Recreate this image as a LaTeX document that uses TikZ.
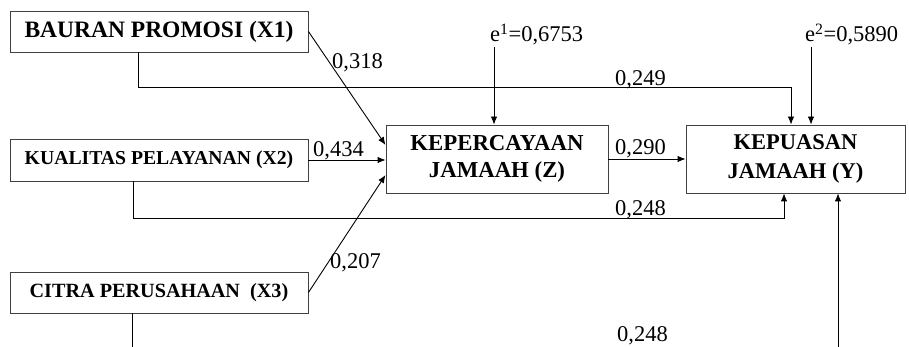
\documentclass[tikz,border=0pt]{standalone}
\usepackage{fontspec}
\setmainfont{Liberation Serif}
\usetikzlibrary{arrows.meta,calc}
\begin{document}
\begin{tikzpicture}[x=1pt,y=-1pt,
  box/.style={draw=black!75,line width=0.9pt,inner sep=0pt,align=center,font=\bfseries},
  conn/.style={line width=0.9pt,-{Latex[length=8pt,width=6.5pt]}},
  plain/.style={line width=0.9pt},
  num/.style={inner sep=0pt,anchor=base west,font=\fontsize{22.5}{26}\selectfont}]
\useasboundingbox (0,0) rectangle (909,347);
\clip (0,0) rectangle (909,347);
\node[box,minimum width=298pt,minimum height=41pt,font=\bfseries\fontsize{23.5}{26}\selectfont] (X1) at (159,31.5) {BAURAN PROMOSI (X1)};
\node[box,minimum width=298pt,minimum height=42pt,font=\bfseries\fontsize{19.7}{23}\selectfont] (X2) at (159,160) {KUALITAS PELAYANAN (X2)};
\node[box,minimum width=298pt,minimum height=41pt,font=\bfseries\fontsize{20.2}{23}\selectfont] (X3) at (159,292.5) {CITRA PERUSAHAAN\ \ (X3)};
\node[box,minimum width=222pt,minimum height=68pt,font=\bfseries\fontsize{22.8}{27}\selectfont] (Z) at (497,159) {KEPERCAYAAN\\JAMAAH (Z)};
\node[box,minimum width=219pt,minimum height=68pt,font=\bfseries\fontsize{22.5}{29}\selectfont] (Y) at (795.5,159) {KEPUASAN\\JAMAAH (Y)};
% error terms
\node[num] (e1) at (490,42) {e\textsuperscript{1}=0,6753};
\node[num] (e2) at (805,42) {e\textsuperscript{2}=0,5890};
\coordinate (e1s) at (494,47);
\coordinate (e2s) at (811,47);
\draw[conn] (e1s) -- (e1s |- Z.north);
\draw[conn] (e2s) -- (e2s |- Y.north);
% direct arrows
\draw[conn] (X1.east) -- ([yshift=14pt]Z.west);
\draw[conn] (X2.east) -- (X2.east -| Z.west);
\draw[conn] (X3.east) -- ([yshift=-16pt]Z.west);
\draw[conn] (Z.east) -- (Z.east -| Y.west);
% long paths
\coordinate (a1) at ([xshift=-21pt]X1.south);
\coordinate (a1e) at ([xshift=-4.5pt]Y.north);
\draw[conn] (a1) |- ($(a1e)+(0,-37)$) -- (a1e);
\coordinate (a2) at ([xshift=-26pt]X2.south);
\coordinate (a2e) at ([xshift=-11.5pt]Y.south);
\draw[conn] (a2) |- ($(a2e)+(0,25)$) -- (a2e);
\coordinate (a3) at ([xshift=-27pt]X3.south);
\coordinate (a3e) at (132,360);
\draw[plain] (a3) -- (a3e);
\coordinate (b4) at (838,360);
\draw[conn] (b4) -- (b4 |- Y.south);
% labels
\node[num] (l1) at (332,69) {0,318};
\node[num] (l2) at (313,157) {0,434};
\node[num] (l3) at (330,268) {0,207};
\node[num] (l4) at (615,86) {0,249};
\node[num] (l5) at (615,155) {0,290};
\node[num] (l6) at (615,215) {0,248};
\node[num] (l7) at (617,341) {0,248};
\end{tikzpicture}
\end{document}
